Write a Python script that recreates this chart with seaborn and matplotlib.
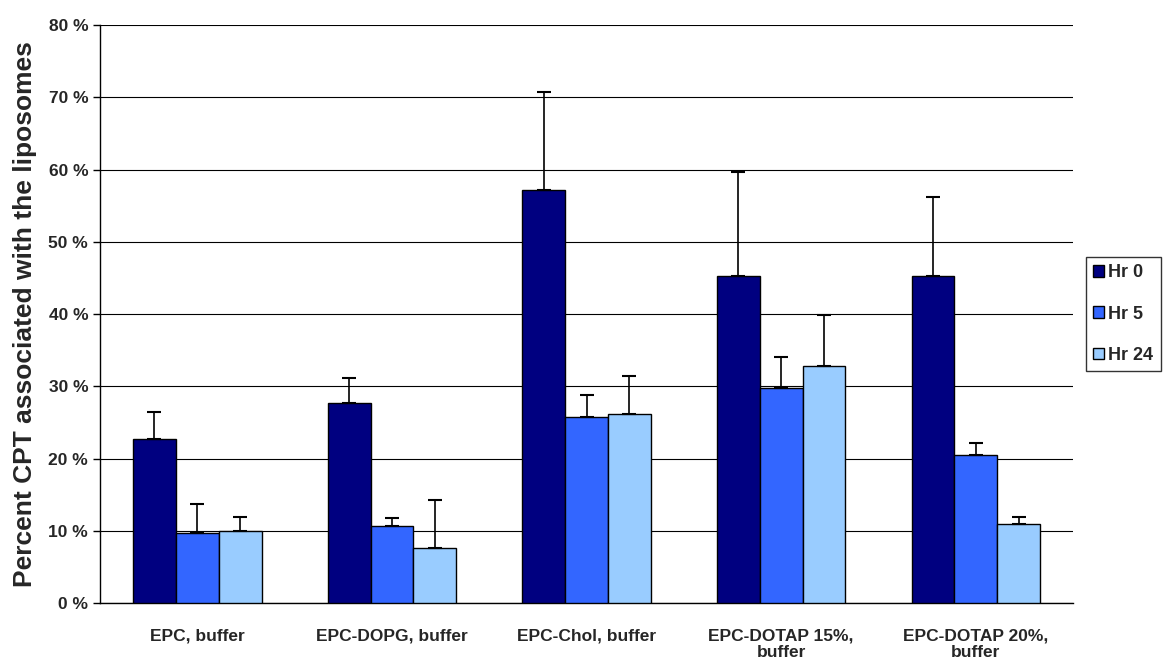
import numpy as np
import pandas as pd
import matplotlib
matplotlib.use("Agg")
import matplotlib.pyplot as plt
import seaborn as sns
from matplotlib.ticker import FixedLocator

# data (percent)
groups = ["EPC, buffer", "EPC-DOPG, buffer", "EPC-Chol, buffer",
          "EPC-DOTAP 15%,\nbuffer", "EPC-DOTAP 20%,\nbuffer"]
series = ["Hr 0", "Hr 5", "Hr 24"]
hr0 = [22.7, 27.7, 57.1, 45.3, 45.3]
hr5 = [9.7, 10.6, 25.8, 29.8, 20.5]
hr24 = [10.0, 7.6, 26.2, 32.8, 10.9]
err0 = [3.8, 3.5, 13.6, 14.4, 10.9]
err5 = [4.0, 1.2, 3.0, 4.2, 1.7]
err24 = [1.9, 6.6, 5.2, 7.1, 1.0]
colors = ["#000080", "#3366FF", "#99CCFF"]

data = pd.DataFrame({
    "group": groups * 3,
    "time": [s for s in series for _ in groups],
    "value": hr0 + hr5 + hr24,
})
errs = [err0, err5, err24]

sns.set_style("white")
plt.rcParams["font.family"] = ["Liberation Sans", "DejaVu Sans"]

fig = plt.figure(figsize=(11.64, 6.71), dpi=100)
ax = fig.add_axes([0.0859, 0.1013, 0.836, 0.8614])

sns.barplot(data=data, x="group", y="value", hue="time", order=groups,
            hue_order=series, palette=colors, width=0.66, saturation=1,
            edgecolor="black", linewidth=1, errorbar=None, ax=ax, zorder=3)

# upper error bars only
for cont, e in zip(ax.containers, errs):
    for bar, ev in zip(cont, e):
        xc = bar.get_x() + bar.get_width() / 2
        h = bar.get_height()
        ax.errorbar(xc, h, yerr=[[0], [ev]], fmt="none", ecolor="black",
                    elinewidth=1.2, capsize=5, capthick=1.5, zorder=4)

ax.set_ylim(0, 80)
ax.set_xlim(-0.5, len(groups) - 0.5)
ax.set_yticks(np.arange(0, 81, 10))
ax.set_yticklabels([f"{v} %" for v in range(0, 81, 10)], fontsize=12.5, fontweight="bold")
ax.set_xticks(range(len(groups)))
ax.set_xticklabels(groups, fontsize=12.5, fontweight="bold")
ax.xaxis.set_minor_locator(FixedLocator(np.arange(-0.5, len(groups), 1)))
ax.tick_params(axis="x", which="major", length=0, pad=18)
ax.tick_params(axis="x", which="minor", length=5, width=1, color="black", direction="out")
ax.tick_params(axis="y", length=5, width=1, color="black", direction="out", left=True)

ax.yaxis.grid(True, color="black", linewidth=0.8, zorder=0)
ax.set_axisbelow(True)
for s in ["top", "right"]:
    ax.spines[s].set_visible(False)
for s in ["left", "bottom"]:
    ax.spines[s].set_color("black")
    ax.spines[s].set_linewidth(1)

ax.set_xlabel("")
ax.set_ylabel("Percent CPT associated with the liposomes", fontsize=19,
              fontweight="bold", labelpad=8)

leg = ax.legend(loc="center left", bbox_to_anchor=(1.013, 0.5), frameon=True,
                fancybox=False, edgecolor="black", prop={"weight": "bold", "size": 13},
                handlelength=0.6, handleheight=0.6, handletextpad=0.25,
                labelspacing=1.35, borderpad=0.4, borderaxespad=0)
leg.get_frame().set_linewidth(1)

fig.savefig("out.png", dpi=100)
